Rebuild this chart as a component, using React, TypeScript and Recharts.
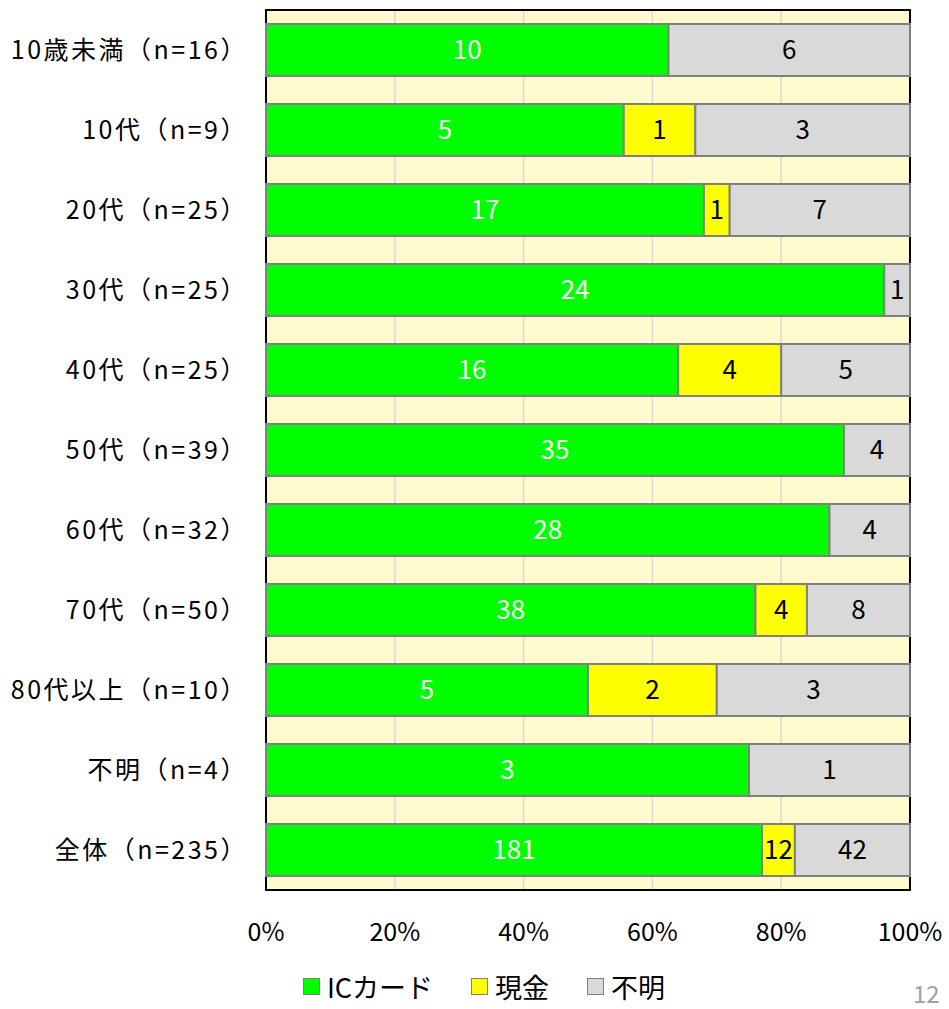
import React from 'react';
import { BarChart, Bar, XAxis, YAxis, CartesianGrid, LabelList, Legend, usePlotArea } from 'recharts';

const categories = [
  '10歳未満（n=16）',
  '10代（n=9）',
  '20代（n=25）',
  '30代（n=25）',
  '40代（n=25）',
  '50代（n=39）',
  '60代（n=32）',
  '70代（n=50）',
  '80代以上（n=10）',
  '不明（n=4）',
  '全体（n=235）',
];
const icCard = [10, 5, 17, 24, 16, 35, 28, 38, 5, 3, 181];
const cash = [0, 1, 1, 0, 4, 0, 0, 4, 2, 0, 12];
const unknown = [6, 3, 7, 1, 5, 4, 4, 8, 3, 1, 42];
const xTicks = [0, 0.2, 0.4, 0.6, 0.8, 1];

const series = [
  { key: 'ic', name: 'ICカード', color: '#00FF00', text: '#FFFFFF' },
  { key: 'cash', name: '現金', color: '#FFFF00', text: '#000000' },
  { key: 'unknown', name: '不明', color: '#D9D9D9', text: '#000000' },
];

const data = categories.map((name, i) => ({
  name,
  ic: icCard[i],
  cash: cash[i],
  unknown: unknown[i],
}));

const FONT = '"Noto Sans CJK JP", "Noto Sans", sans-serif';

const PlotBorder = () => {
  const area = usePlotArea();
  if (!area) return null;
  return (
    <rect x={area.x} y={area.y} width={area.width} height={area.height} fill="none" stroke="#000" strokeWidth={2} />
  );
};

const LegendBox = () => (
  <div style={{ display: 'flex', justifyContent: 'center', alignItems: 'center', paddingTop: 30, paddingLeft: 58, fontFamily: FONT, fontSize: 27 }}>
    {series.map((s, i) => (
      <div key={s.key} style={{ display: 'flex', alignItems: 'center', marginLeft: i === 0 ? 0 : 38 }}>
        <span style={{ display: 'inline-block', width: 15, height: 15, background: s.color, border: '1.5px solid #808080', marginRight: 7 }} />
        <span>{s.name}</span>
      </div>
    ))}
  </div>
);

export default function App() {
  return (
    <div style={{ position: 'absolute', left: 0, top: 0, width: 949, height: 1009, background: '#fff', overflow: 'hidden' }}>
      <BarChart
        width={949}
        height={1009}
        data={data}
        layout="vertical"
        stackOffset="expand"
        barCategoryGap="17.5%"
        margin={{ top: 10, right: 39, bottom: 0, left: 0 }}
      >
        <CartesianGrid horizontal={false} stroke="#D9D9D9" strokeWidth={1.5} fill="#FFFACD" />
        <XAxis
          type="number"
          domain={[0, 1]}
          ticks={xTicks}
          tickFormatter={(v: number) => `${Math.round(v * 100)}%`}
          tickLine={false}
          axisLine={false}
          tickMargin={27}
          height={47}
          tick={{ fill: '#000', fontSize: 25, fontFamily: FONT }}
        />
        <YAxis
          type="category"
          dataKey="name"
          width={266}
          tickLine={false}
          axisLine={false}
          tickMargin={12}
          interval={0}
          tick={{ fill: '#000', fontSize: 25, fontFamily: FONT, letterSpacing: 2.5 }}
        />
        <Legend verticalAlign="bottom" height={72} content={() => <LegendBox />} />
        {series.map((s) => (
          <Bar key={s.key} dataKey={s.key} name={s.name} stackId="a" fill={s.color} stroke="#808080" strokeWidth={2} isAnimationActive={false}>
            <LabelList
              dataKey={s.key}
              position="center"
              fill={s.text}
              fontSize={26}
              fontFamily={FONT}
              formatter={(v: any) => (v ? v : '')}
            />
          </Bar>
        ))}
        <PlotBorder />
      </BarChart>
      <div style={{ position: 'absolute', left: 913, top: 980, fontFamily: FONT, fontSize: 24, lineHeight: '26px', color: '#A0A0A0' }}>12</div>
    </div>
  );
}
